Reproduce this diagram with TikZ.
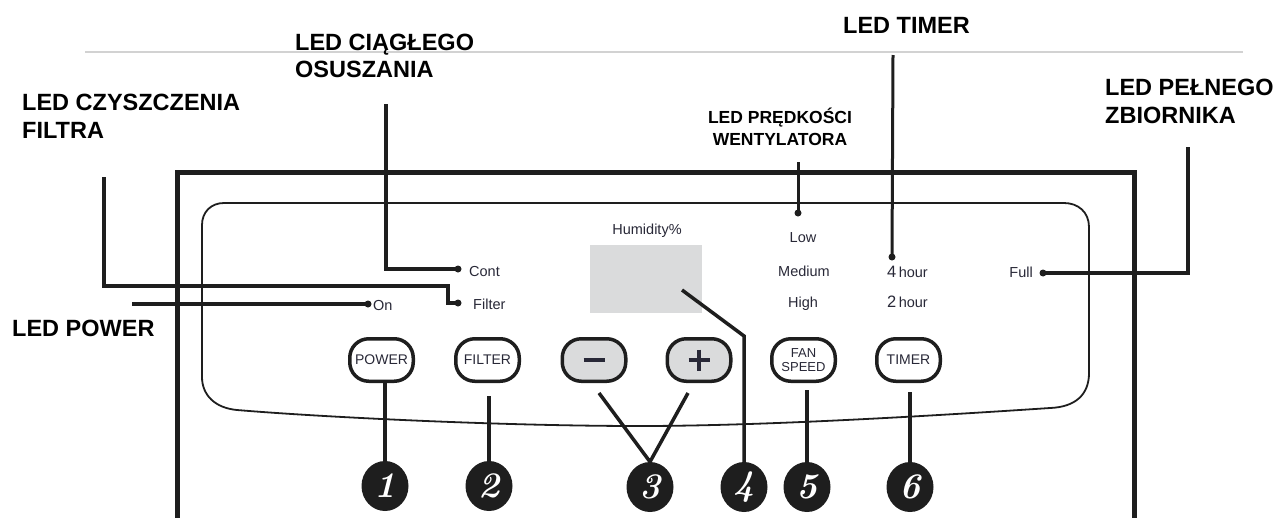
\documentclass[tikz,border=0pt]{standalone}
\usepackage{fontspec}
\newfontfamily\arial{Liberation Sans}
\usetikzlibrary{shapes.geometric}
\definecolor{paneltext}{RGB}{40,40,55}
\definecolor{dispgray}{RGB}{218,219,220}
\definecolor{ink}{RGB}{30,30,30}
\begin{document}
\begin{tikzpicture}[x=1pt,y=-1pt,
  big/.style={font=\arial\bfseries\fontsize{23.5}{28}\selectfont, inner sep=0, anchor=base west},
  mid/.style={font=\arial\bfseries\fontsize{17.5}{21}\selectfont, inner sep=0, anchor=base},
  ptxt/.style={font=\arial\fontsize{14.5}{17}\selectfont, text=paneltext, inner sep=0, anchor=base west},
  btn/.style={draw=ink, line width=3.5pt, rounded corners=19pt, minimum width=63.5pt, minimum height=42.5pt, fill=white, font=\arial\fontsize{14}{14}\selectfont, text=paneltext, inner sep=0, align=center},
  num/.style={ellipse, fill=ink, minimum width=47pt, minimum height=50pt, inner sep=0, text=white, font=\bfseries\itshape\fontsize{36}{36}\selectfont},
  dot/.style={circle, fill=ink, inner sep=0, minimum size=7pt},
  lead/.style={draw=ink, line width=3.5pt},
  conn/.style={draw=ink, line width=4.5pt}]
\useasboundingbox (0,0) rectangle (1279,517);

% thin gray top line
\draw[gray!35, line width=1.3pt] (85,52) -- (1243,52);

% outer housing
\draw[ink, line width=5pt] (177,530) -- (177,172) -- (1134,172) -- (1134,530);

% panel outline
\draw[ink, line width=1.8pt] (202,225) .. controls (202,212) and (211,203) .. (224,203)
  -- (1064,203) .. controls (1078,203) and (1089,212) .. (1089,227)
  -- (1089,373) .. controls (1089,395) and (1075,407) .. (1050,408)
  .. controls (900,418) and (750,426) .. (640,426)
  .. controls (500,426) and (320,417) .. (237,410)
  .. controls (215,408) and (202,395) .. (202,377) -- cycle;

% labels
\node[big] (lf1) at (22,110) {LED CZYSZCZENIA};
\node[big] (lf2) at (22,138) {FILTRA};
\node[big] (lc1) at (295,50) {LED CIĄGŁEGO};
\node[big] (lc2) at (295,77) {OSUSZANIA};
\node[big] (lt) at (843,33) {LED TIMER};
\node[mid] (lw1) at (780,123) {LED PRĘDKOŚCI};
\node[mid] (lw2) at (780,145) {WENTYLATORA};
\node[big] (lp1) at (1105,95) {LED PEŁNEGO};
\node[big] (lp2) at (1105,123) {ZBIORNIKA};
\node[big] (lpw) at (12,336) {LED POWER};

% display
\node[fill=dispgray, minimum width=112pt, minimum height=68pt, inner sep=0] (disp) at (646,279) {};

% panel texts
\node[ptxt] (xCont) at (469,276) {Cont};
\node[ptxt] (xFilter) at (473,309) {Filter};
\node[ptxt] (xOn) at (373,310) {On};
\node[ptxt, anchor=base] (xHum) at (647,234) {Humidity\%};
\node[ptxt, anchor=base] (xLow) at (803,242) {Low};
\node[ptxt, anchor=base] (xMed) at (804,276) {Medium};
\node[ptxt, anchor=base] (xHigh) at (803,307) {High};
\node[ptxt] (x4h) at (887,277) {{\fontsize{16.5}{17}\selectfont 4}\,hour};
\node[ptxt] (x2h) at (887,307) {{\fontsize{16.5}{17}\selectfont 2}\,hour};
\node[ptxt, anchor=base east] (xFull) at (1033,277) {Full};

% dots
\node[dot] (dCont) at (458,269) {};
\node[dot] (dFil) at (458,303) {};
\node[dot] (dOn) at (368,304) {};
\node[dot] (dLow) at (798,213) {};
\node[dot] (d4h) at (892,257) {};
\node[dot] (dFull) at (1043,273) {};

% leader lines
\coordinate (tCont) at (386,104);
\coordinate (cCont) at (386,269);
\draw[lead] (tCont) -- (cCont) -- (dCont.center);

\coordinate (tFil) at (104,177);
\coordinate (c1Fil) at (104,286);
\coordinate (c2Fil) at (448,286);
\coordinate (c3Fil) at (448,303);
\draw[lead, line width=3.3pt] (tFil) -- (c1Fil) -- (c2Fil) -- (c3Fil) -- (dFil.center);

\coordinate (sPow) at (132,304);
\draw[lead, line width=4.8pt] (sPow) -- (dOn.center);

\coordinate (tFan) at (798,162);
\draw[lead, line width=3pt] (tFan) -- (dLow.center);

\coordinate (tTim) at (893,55);
\draw[lead, line width=3pt] (tTim) -- (d4h.center);

\coordinate (cFull) at (1188,273);
\coordinate (tFull) at (1188,147);
\draw[lead] (dFull.center) -- (cFull) -- (tFull);

% buttons
\node[btn] (bPow) at (381.5,360) {POWER};
\node[btn] (bFil) at (487.5,360) {FILTER};
\node[btn, fill=dispgray] (bMin) at (594,360) {};
\node[btn, fill=dispgray] (bPlus) at (699,360) {};
\node[btn, font=\arial\fontsize{13}{14}\selectfont] (bFan) at (803.5,360) {FAN\\SPEED};
\node[btn] (bTim) at (908.5,360) {TIMER};
\draw[paneltext, line width=4pt] (bMin.center) ++(-10.5,0) -- ++(21,0);
\draw[paneltext, line width=4pt] (bPlus.center) ++(-10.5,0) -- ++(21,0);
\draw[paneltext, line width=4pt] (bPlus.center) ++(0,-10.5) -- ++(0,21);

% number badges
\node[num] (n1) at (385,486) {1};
\node[num] (n2) at (489,486) {2};
\node[num] (n3) at (650,487) {3};
\node[num] (n4) at (744,487) {4};
\node[num] (n5) at (807,487) {5};
\node[num] (n6) at (910,487) {6};

% connectors to badges
\draw[conn] (n1.north) -- (n1.north |- bPow.south);
\coordinate (g2) at (489,396);
\draw[conn] (n2.north) -- (g2);
\coordinate (m3a) at (599,393);
\coordinate (m3b) at (688,393);
\draw[lead] (m3a) -- (n3.north) -- (m3b);
\coordinate (s4) at (682,290);
\coordinate (k4) at (744,336);
\draw[lead] (s4) -- (k4) -- (n4.north);
\coordinate (g5) at (807,390);
\draw[lead] (g5) -- (n5.north);
\coordinate (g6) at (910,392);
\draw[conn] (g6) -- (n6.north);
\end{tikzpicture}
\end{document}
